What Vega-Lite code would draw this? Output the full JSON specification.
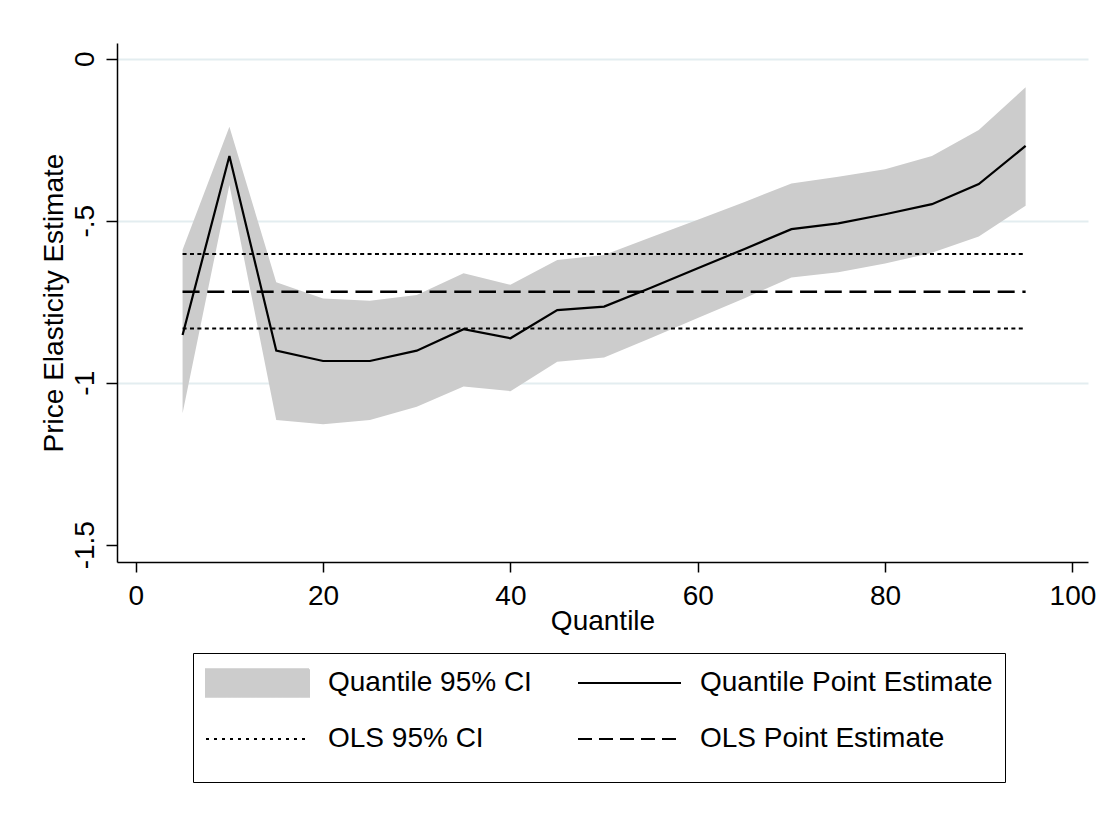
{
  "$schema": "https://vega.github.io/schema/vega-lite/v6.json",
  "width": 971,
  "height": 519,
  "autosize": {"type": "none"},
  "padding": {"left": 117, "top": 43, "right": 27, "bottom": 253},
  "background": "white",
  "config": {
    "font": "Liberation Sans",
    "view": {"stroke": null},
    "axis": {
      "labelFont": "Liberation Sans",
      "labelFontSize": 28,
      "labelColor": "black",
      "titleFont": "Liberation Sans",
      "titleFontSize": 28,
      "titleFontWeight": "normal",
      "titleColor": "black",
      "domainColor": "black",
      "domainWidth": 1.5,
      "tickColor": "black",
      "tickWidth": 1.5
    }
  },
  "datasets": {
    "qr": [
      {"quantile": 5, "estimate": -0.853, "lower": -1.094, "upper": -0.590},
      {"quantile": 10, "estimate": -0.300, "lower": -0.390, "upper": -0.210},
      {"quantile": 15, "estimate": -0.901, "lower": -1.115, "upper": -0.690},
      {"quantile": 20, "estimate": -0.933, "lower": -1.128, "upper": -0.740},
      {"quantile": 25, "estimate": -0.933, "lower": -1.115, "upper": -0.747},
      {"quantile": 30, "estimate": -0.901, "lower": -1.074, "upper": -0.729},
      {"quantile": 35, "estimate": -0.835, "lower": -1.012, "upper": -0.662},
      {"quantile": 40, "estimate": -0.863, "lower": -1.026, "upper": -0.698},
      {"quantile": 45, "estimate": -0.776, "lower": -0.935, "upper": -0.621},
      {"quantile": 50, "estimate": -0.765, "lower": -0.922, "upper": -0.606},
      {"quantile": 55, "estimate": -0.707, "lower": -0.862, "upper": -0.551},
      {"quantile": 60, "estimate": -0.647, "lower": -0.800, "upper": -0.497},
      {"quantile": 65, "estimate": -0.587, "lower": -0.739, "upper": -0.442},
      {"quantile": 70, "estimate": -0.526, "lower": -0.675, "upper": -0.385},
      {"quantile": 75, "estimate": -0.508, "lower": -0.659, "upper": -0.364},
      {"quantile": 80, "estimate": -0.480, "lower": -0.632, "upper": -0.341},
      {"quantile": 85, "estimate": -0.449, "lower": -0.599, "upper": -0.300},
      {"quantile": 90, "estimate": -0.387, "lower": -0.549, "upper": -0.220},
      {"quantile": 95, "estimate": -0.269, "lower": -0.454, "upper": -0.088}
    ],
    "ols": [
      {"series": "OLS 95% CI", "bound": "upper", "value": -0.603, "start": 5, "end": 95},
      {"series": "OLS Point Estimate", "bound": "estimate", "value": -0.719, "start": 5, "end": 95},
      {"series": "OLS 95% CI", "bound": "lower", "value": -0.833, "start": 5, "end": 95}
    ]
  },
  "encoding": {
    "x": {
      "type": "quantitative",
      "scale": {"domain": [-2, 101.66], "nice": false, "zero": false},
      "axis": {
        "title": "Quantile",
        "values": [0, 20, 40, 60, 80, 100],
        "grid": false,
        "tickSize": 10,
        "labelPadding": 10,
        "labelBaseline": "top",
        "titleY": 67,
        "titleBaseline": "alphabetic"
      }
    },
    "y": {
      "type": "quantitative",
      "scale": {"domain": [-1.5534, 0.0485], "nice": false, "zero": false},
      "axis": {
        "title": "Price Elasticity Estimate",
        "values": [0, -0.5, -1, -1.5],
        "labelExpr": "replace(toString(datum.value), '0.', '.')",
        "labelAngle": -90,
        "labelAlign": "center",
        "labelBaseline": "alphabetic",
        "tickSize": 11,
        "labelPadding": 13,
        "grid": true,
        "gridColor": "#e3edf0",
        "gridWidth": 2,
        "gridOpacity": {"condition": {"test": "datum.value < -1.4", "value": 0}, "value": 1},
        "titleAngle": -90,
        "titleX": -55,
        "titleBaseline": "alphabetic"
      }
    },
    "color": {
      "type": "nominal",
      "scale": {
        "domain": ["Quantile 95% CI", "OLS 95% CI", "Quantile Point Estimate", "OLS Point Estimate"],
        "range": ["#cccccc", "#000000", "#000000", "#000000"]
      },
      "legend": {
        "title": " ",
        "titleOrient": "bottom",
        "titleFontSize": 10,
        "titlePadding": 3,
        "orient": "none",
        "legendX": 76,
        "legendY": 610,
        "columns": 2,
        "columnPadding": 45,
        "rowPadding": 20,
        "padding": 12,
        "clipHeight": 36,
        "symbolType": "stroke",
        "symbolSize": 10609,
        "symbolStrokeWidth": 2,
        "labelFont": "Liberation Sans",
        "labelFontSize": 28,
        "labelColor": "black",
        "labelLimit": 500,
        "labelOffset": 18,
        "strokeColor": "black",
        "fillColor": "white",
        "encode": {
          "symbols": {
            "update": {
              "shape": {"signal": "datum.value === 'Quantile 95% CI' ? 'M-1,-0.265H1V0.265H-1Z' : 'stroke'"},
              "fill": {"signal": "datum.value === 'Quantile 95% CI' ? '#cccccc' : 'transparent'"},
              "opacity": {"value": 1},
              "stroke": {"signal": "datum.value === 'Quantile 95% CI' ? '#c2c2c2' : '#000000'"},
              "strokeDash": {"signal": "datum.value === 'OLS 95% CI' ? [3, 5] : (datum.value === 'OLS Point Estimate' ? [14, 7] : [1, 0])"}
            }
          }
        }
      }
    }
  },
  "layer": [
    {
      "data": {"name": "qr"},
      "mark": {"type": "area", "opacity": 1},
      "encoding": {
        "x": {"field": "quantile", "type": "quantitative"},
        "y": {"field": "lower", "type": "quantitative"},
        "y2": {"field": "upper"},
        "color": {"datum": "Quantile 95% CI", "type": "nominal"}
      }
    },
    {
      "data": {"name": "qr"},
      "mark": {"type": "line", "strokeWidth": 2.2},
      "encoding": {
        "x": {"field": "quantile", "type": "quantitative"},
        "y": {"field": "estimate", "type": "quantitative"},
        "color": {"datum": "Quantile Point Estimate", "type": "nominal"}
      }
    },
    {
      "data": {"name": "ols"},
      "transform": [{"filter": "datum.series === 'OLS 95% CI'"}],
      "mark": {"type": "rule", "strokeWidth": 2, "strokeDash": [4, 3.4]},
      "encoding": {
        "x": {"field": "start", "type": "quantitative"},
        "x2": {"field": "end"},
        "y": {"field": "value", "type": "quantitative"},
        "color": {"datum": "OLS 95% CI", "type": "nominal"}
      }
    },
    {
      "data": {"name": "ols"},
      "transform": [{"filter": "datum.series === 'OLS Point Estimate'"}],
      "mark": {"type": "rule", "strokeWidth": 2.5, "strokeDash": [17, 7.7]},
      "encoding": {
        "x": {"field": "start", "type": "quantitative"},
        "x2": {"field": "end"},
        "y": {"field": "value", "type": "quantitative"},
        "color": {"datum": "OLS Point Estimate", "type": "nominal"}
      }
    }
  ]
}
